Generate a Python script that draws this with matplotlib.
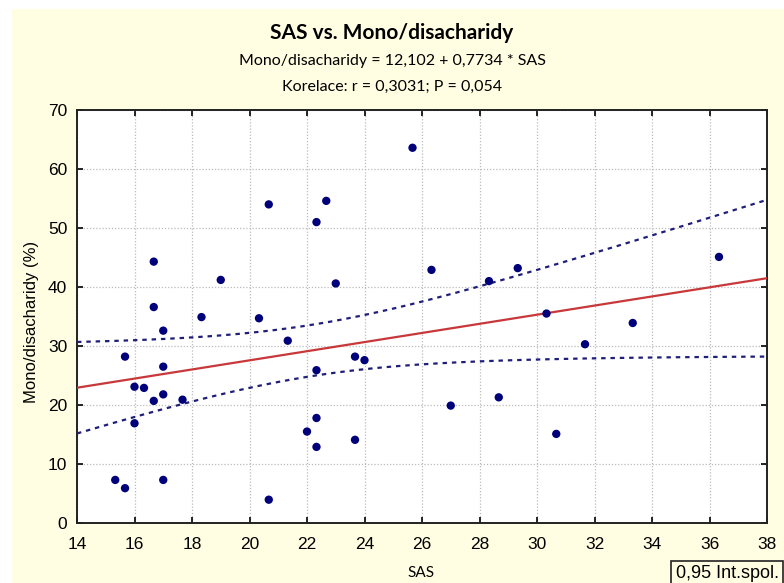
import numpy as np
import matplotlib
matplotlib.use("Agg")
import matplotlib.pyplot as plt
from matplotlib.patches import Rectangle

# Data
sas = [15.33, 15.67, 15.67, 16.0, 16.0, 16.33, 16.67, 16.67, 16.67, 17.0,
       17.0, 17.0, 17.0, 17.67, 18.33, 19.0, 20.33, 20.67, 20.67, 21.33,
       22.0, 22.33, 22.33, 22.33, 22.33, 22.67, 23.0, 23.67, 24.0, 23.67,
       25.67, 26.33, 27.0, 28.33, 28.67, 29.33, 30.33, 30.67, 31.67, 33.33,
       36.33]
mono = [7.3, 5.9, 28.2, 23.1, 16.9, 22.9, 44.3, 36.6, 20.7, 32.6,
        26.5, 21.8, 7.3, 20.9, 34.9, 41.2, 34.7, 54.0, 3.95, 30.9,
        15.5, 51.0, 25.9, 17.8, 12.9, 54.6, 40.6, 28.2, 27.6, 14.1,
        63.6, 42.9, 19.9, 41.0, 21.3, 43.2, 35.5, 15.1, 30.3, 33.9,
        45.1]
intercept = 12.102
slope = 0.7734
x_ticks = list(range(14, 39, 2))
y_ticks = list(range(0, 71, 10))

x = np.array(sas)
y = np.array(mono)
n = len(x)

bg = "#FFFEE2"
W, H = 784, 583
fig = plt.figure(figsize=(7.84, 5.83), dpi=100, facecolor="white")
fig.patches.append(Rectangle((12/W, 0), 1 - 12/W, 1 - 9/H, transform=fig.transFigure,
                             facecolor=bg, edgecolor="none", zorder=-10))
ax = fig.add_axes([77/W, 1-523/H, (767-77)/W, (523-110)/H])
ax.set_facecolor("white")

xs = np.linspace(14, 38, 200)
fit = intercept + slope * xs
resid = y - (intercept + slope * x)
s = np.sqrt(np.sum(resid**2) / (n - 2))
sxx = np.sum((x - x.mean())**2)
tval = 2.0227
half = tval * s * np.sqrt(1/n + (xs - x.mean())**2 / sxx)

ax.plot(xs, fit + half, color="#1F1F7A", ls=(0, (2, 2.2)), lw=1.6, zorder=3)
ax.plot(xs, fit - half, color="#1F1F7A", ls=(0, (2, 2.2)), lw=1.6, zorder=3)
ax.plot(xs, fit, color="#C8383A", lw=1.6, zorder=3)
ax.scatter(x, y, s=36, color="#00007A", zorder=4, edgecolors="none")

ax.set_xlim(14, 38)
ax.set_ylim(0, 70)
ax.set_xticks(x_ticks)
ax.set_yticks(y_ticks)
ax.grid(True, color="#BBBBBB", ls=(0, (1, 1.5)), lw=0.9)
ax.tick_params(direction="in", top=True, right=True, length=4, width=1.2,
               labelsize=12.5)
ax.tick_params(axis="x", pad=10)
ax.tick_params(axis="y", pad=7)
for lab in ax.get_xticklabels() + ax.get_yticklabels():
    lab.set_family("Liberation Sans")
for sp in ax.spines.values():
    sp.set_linewidth(1.4)
    sp.set_color("#222222")

fig.text(0.5, 1-33/H, "SAS vs. Mono/disacharidy", ha="center", va="center",
         fontsize=15, fontweight="bold", family="Lato")
fig.text(0.5, 1-61/H, "Mono/disacharidy = 12,102 + 0,7734 * SAS", ha="center",
         va="center", fontsize=11.5, family="Lato")
fig.text(0.5, 1-87/H, "Korelace: r = 0,3031; P = 0,054", ha="center",
         va="center", fontsize=11.5, family="Lato")
fig.text(32/W, 1-322/H, "Mono/disacharidy (%)", rotation=90, ha="center",
         va="center", fontsize=12, family="Liberation Sans")
fig.text(421/W, 1-573/H, "SAS", ha="center", va="center", fontsize=11,
         family="Lato")
fig.text(727/W, 1-574/H, "0,95 Int.spol.", ha="center", va="center",
         fontsize=13, family="Liberation Sans",
         bbox=dict(boxstyle="square,pad=0.25", fc=bg, ec="#222222", lw=1.2))

fig.savefig("out.png", dpi=100, facecolor="white")
